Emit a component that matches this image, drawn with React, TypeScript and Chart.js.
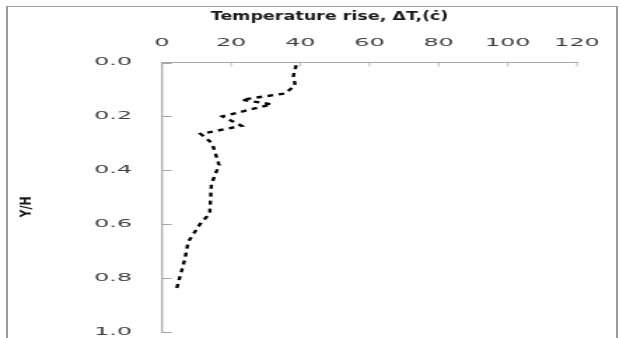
import React, { useEffect, useRef } from "react";
import { Chart, registerables } from "chart.js";

Chart.register(...registerables);

// Data
const yOverH: number[] = [0.01, 0.05, 0.085, 0.115, 0.138, 0.155, 0.2, 0.235, 0.265, 0.3, 0.38, 0.45, 0.56, 0.6, 0.665, 0.73, 0.85];
const tempRise: number[] = [38.8, 38.0, 38.5, 35.6, 23.0, 31.7, 17.5, 23.0, 11.2, 14.5, 16.5, 14.3, 13.8, 11.0, 7.6, 6.6, 4.0];
const xTitle = "Temperature rise, ΔT,(ċ)";
const yTitle = "Y/H";

const STRETCH = 1.4;
const LABEL_WIDEN = 1.55;
const CW = 444;
const CH = 338;

const innerTicks = {
  id: "innerTicks",
  afterDatasetsDraw(chart: any) {
    // tick labels (z = 1) are drawn after this hook: widen their glyphs around their anchor
    const ctx = chart.ctx;
    const orig = CanvasRenderingContext2D.prototype.fillText;
    ctx.fillText = function (text: string, x: number, y: number) {
      this.save();
      this.translate(x, y);
      this.scale(LABEL_WIDEN, 1);
      orig.call(this, text, 0, 0);
      this.restore();
    };
  },
  afterDraw(chart: any) {
    const { ctx, chartArea, scales } = chart;
    delete ctx.fillText;
    const xs = scales.x;
    const ys = scales.y;
    ctx.save();
    ctx.strokeStyle = "#a6a6a6";
    ctx.lineWidth = 1;
    ys.ticks.forEach((t: any) => {
      const py = Math.round(ys.getPixelForValue(t.value)) + 0.5;
      ctx.beginPath();
      ctx.moveTo(chartArea.left, py);
      ctx.lineTo(chartArea.left + 7, py);
      ctx.stroke();
    });
    ctx.lineWidth = 0.75;
    xs.ticks.forEach((t: any) => {
      const px = xs.getPixelForValue(t.value);
      ctx.beginPath();
      ctx.moveTo(px, chartArea.top);
      ctx.lineTo(px, chartArea.top + 4);
      ctx.stroke();
    });
    ctx.restore();
  },
};

export default function App() {
  const ref = useRef<HTMLCanvasElement>(null);
  useEffect(() => {
    if (!ref.current) return;
    const chart = new Chart(ref.current, {
      type: "scatter",
      data: {
        datasets: [
          {
            data: yOverH.map((y, i) => ({ x: tempRise[i], y })),
            showLine: true,
            borderColor: "#000000",
            borderWidth: 2.4,
            borderDash: [4, 4],
            pointRadius: 0,
            tension: 0,
            fill: false,
          },
        ],
      },
      options: {
        animation: false,
        responsive: false,
        devicePixelRatio: 1,
        layout: { padding: { left: 0, top: 0, right: 31.9, bottom: 6 } },
        plugins: { legend: { display: false }, tooltip: { enabled: false } },
        scales: {
          x: {
            type: "linear",
            position: "top",
            min: 0,
            max: 120,
            afterFit: (s: any) => {
              s.height = 62.5;
            },
            ticks: {
              stepSize: 20,
              padding: 12.6,
              z: 1,
              color: "#404040",
              font: { family: "DejaVu Sans", size: 11 },
            },
            grid: { display: false, drawTicks: false, tickLength: 0 },
            border: { display: true, color: "#a6a6a6", width: 1 },
            title: {
              display: true,
              text: "        " + xTitle,
              align: "start",
              color: "#1a1a1a",
              padding: { top: 9, bottom: 0 },
              font: { family: "DejaVu Sans", size: 12.5, weight: "bold" },
            },
          },
          y: {
            type: "linear",
            position: "left",
            reverse: true,
            min: 0,
            max: 1,
            afterFit: (s: any) => {
              s.width = 115.7;
            },
            ticks: {
              stepSize: 0.2,
              padding: 0,
              z: 1,
              color: "#404040",
              font: { family: "DejaVu Sans", size: 11, lineHeight: 1.0 },
              callback: (v: any) => Number(v).toFixed(1),
            },
            grid: {
              display: true,
              drawOnChartArea: false,
              drawTicks: true,
              tickLength: 21.4,
              color: "rgba(0,0,0,0)",
              tickColor: "rgba(0,0,0,0)",
            },
            border: { display: true, color: "#b0b0b0", width: 1.4 },
            title: {
              display: true,
              text: yTitle + "     ",
              color: "#1a1a1a",
              padding: { top: 13, bottom: 0 },
              font: { family: "DejaVu Sans", size: 11, weight: "bold" },
            },
          },
        },
      },
      plugins: [innerTicks],
    } as any);
    return () => chart.destroy();
  }, []);

  return (
    <div style={{ position: "absolute", left: 0, top: 0, width: 621, height: 338, overflow: "hidden", background: "#fff" }}>
      <div
        style={{
          position: "absolute",
          left: 6,
          top: 6,
          width: 608,
          height: 400,
          borderLeft: "2px solid #9a9a9a",
          borderRight: "2px solid #9a9a9a",
          borderTop: "1px solid #a0a0a0",
        }}
      />
      <div
        style={{
          position: "absolute",
          left: 0,
          top: 0,
          width: CW,
          height: CH,
          transform: `scaleX(${STRETCH})`,
          transformOrigin: "0 0",
        }}
      >
        <canvas ref={ref} width={CW} height={CH} style={{ display: "block", width: CW, height: CH }} />
      </div>
    </div>
  );
}
